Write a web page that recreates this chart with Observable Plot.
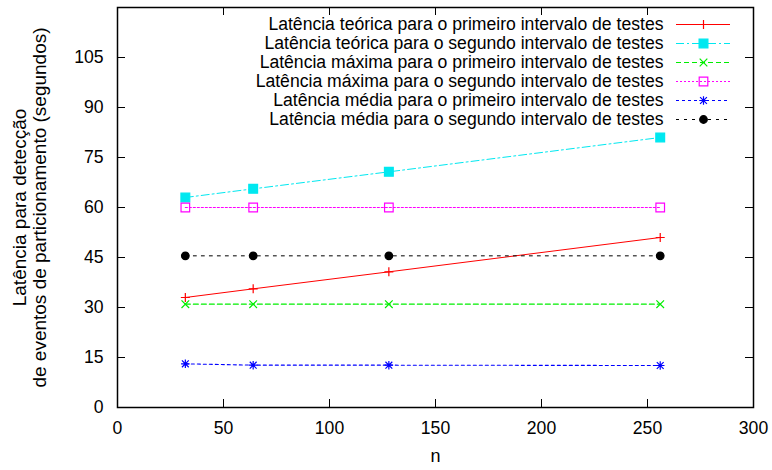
<!DOCTYPE html>
<html><head><meta charset="utf-8">
<script src="https://cdn.jsdelivr.net/npm/d3@7"></script>
<script src="https://cdn.jsdelivr.net/npm/@observablehq/plot@0.6"></script>
<style>body{margin:0;background:#fff}</style>
</head><body><div id="chart"></div>
<script>
// ---- data ----
const n = [32, 64, 128, 256];
const teorica1 = [33.0, 35.6, 40.7, 51.0];
const teorica2 = [63.0, 65.6, 70.7, 81.0];
const maxima1 = [31.0, 31.0, 31.0, 31.0];
const maxima2 = [60.0, 60.0, 60.0, 60.0];
const media1 = [13.1, 12.7, 12.7, 12.6];
const media2 = [45.5, 45.5, 45.5, 45.5];
const seriesNames = [
  "Latência teórica para o primeiro intervalo de testes",
  "Latência teórica para o segundo intervalo de testes",
  "Latência máxima para o primeiro intervalo de testes",
  "Latência máxima para o segundo intervalo de testes",
  "Latência média para o primeiro intervalo de testes",
  "Latência média para o segundo intervalo de testes"
];
const seriesValues = [teorica1, teorica2, maxima1, maxima2, media1, media2];
const xTicks = [0, 50, 100, 150, 200, 250, 300];
const yTicks = [0, 15, 30, 45, 60, 75, 90, 105];
const xLabel = "n";
const yLabel = "Latência para detecção\nde eventos de particionamento (segundos)";

// ---- layout ----
const W = 772, H = 470, mL = 117, mR = 19, mT = 7, mB = 63;
const innerW = W - mL - mR, innerH = H - mT - mB;
const FS = 17.6;

// ---- symbols ----
const hOf = s => Math.sqrt(s / Math.PI);
const symPlus = {draw(c, s) {const h = hOf(s); c.moveTo(-h, 0); c.lineTo(h, 0); c.moveTo(0, -h); c.lineTo(0, h);}};
const symTimes = {draw(c, s) {const h = hOf(s) * 0.85; c.moveTo(-h, -h); c.lineTo(h, h); c.moveTo(-h, h); c.lineTo(h, -h);}};
const symStar = {draw(c, s) {const h = hOf(s) * 0.95, d = h * 0.8; c.moveTo(-h, 0); c.lineTo(h, 0); c.moveTo(0, -h); c.lineTo(0, h); c.moveTo(-d, -d); c.lineTo(d, d); c.moveTo(-d, d); c.lineTo(d, -d);}};
const symSquare = {draw(c, s) {const h = hOf(s); c.moveTo(-h, -h); c.lineTo(h, -h); c.lineTo(h, h); c.lineTo(-h, h); c.closePath();}};

const styles = [
  {color: "#ff0000", dash: null, symbol: symPlus, r: 4.5, fill: "none", sw: 1},
  {color: "#00e8f0", dash: "8,3,2,3", symbol: symSquare, r: 4.4, fill: "#00e8f0", sw: 1},
  {color: "#00ee00", dash: "5,3", symbol: symTimes, r: 4.5, fill: "none", sw: 1.1},
  {color: "#ff00ff", dash: "2,2", symbol: symSquare, r: 4.3, fill: "none", sw: 1.2},
  {color: "#0000ff", dash: "3,3", symbol: symStar, r: 4.5, fill: "none", sw: 1.1},
  {color: "#000000", dash: "3,5", symbol: "circle", r: 3.8, fill: "#000000", sw: 1}
];

const marks = [];
// inward ticks on all four sides
marks.push(Plot.tickX(xTicks, {x: d => d, stroke: "black", strokeWidth: 1, insetTop: innerH - 8}));
marks.push(Plot.tickX(xTicks, {x: d => d, stroke: "black", strokeWidth: 1, insetBottom: innerH - 8}));
marks.push(Plot.tickY(yTicks, {y: d => d, stroke: "black", strokeWidth: 1, insetRight: innerW - 8}));
marks.push(Plot.tickY(yTicks, {y: d => d, stroke: "black", strokeWidth: 1, insetLeft: innerW - 8}));

seriesValues.forEach((vals, i) => {
  const st = styles[i];
  const data = n.map((x, j) => ({n: x, v: vals[j]}));
  marks.push(Plot.line(data, {x: "n", y: "v", stroke: st.color, strokeWidth: st.sw, strokeDasharray: st.dash}));
  marks.push(Plot.dot(data, {x: "n", y: "v", symbol: st.symbol, r: st.r, stroke: st.color, fill: st.fill, strokeWidth: 1.2}));
  // legend entry
  const dy = 17 + 19 * i;
  marks.push(Plot.text([seriesNames[i]], {text: d => d, frameAnchor: "top-right", dx: -90, dy, textAnchor: "end", lineAnchor: "middle", fill: "black", fontSize: FS}));
  marks.push(Plot.tickY([120], {y: d => d, dy, insetLeft: innerW - 77, insetRight: 23, stroke: st.color, strokeWidth: st.sw, strokeDasharray: st.dash}));
  marks.push(Plot.dot([seriesNames[i]], {frameAnchor: "top-right", dx: -50, dy, symbol: st.symbol, r: st.r, stroke: st.color, fill: st.fill, strokeWidth: 1.2}));
});

marks.push(Plot.frame({stroke: "black", strokeWidth: 1.5}));
marks.push(Plot.axisX(xTicks, {tickSize: 0, tickPadding: 14, label: null, fontSize: FS}));
marks.push(Plot.axisY(yTicks, {tickSize: 0, tickPadding: 14, label: null, fontSize: FS}));
marks.push(Plot.text([xLabel], {text: d => d, frameAnchor: "bottom", dy: 49, textAnchor: "middle", lineAnchor: "middle", fontSize: 18, fill: "black"}));
marks.push(Plot.text([yLabel], {text: d => d, frameAnchor: "left", dx: -88, rotate: -90, textAnchor: "middle", lineAnchor: "middle", lineHeight: 1.05, fontSize: 19, fill: "black"}));

const chart = Plot.plot({
  width: W, height: H,
  marginLeft: mL, marginRight: mR, marginTop: mT, marginBottom: mB,
  x: {domain: [0, 300], axis: null},
  y: {domain: [0, 120], axis: null},
  style: {fontFamily: "'Liberation Sans', Arial, sans-serif", fontSize: FS + "px", background: "white", color: "black"},
  marks
});
document.getElementById("chart").appendChild(chart);
</script>
</body></html>
